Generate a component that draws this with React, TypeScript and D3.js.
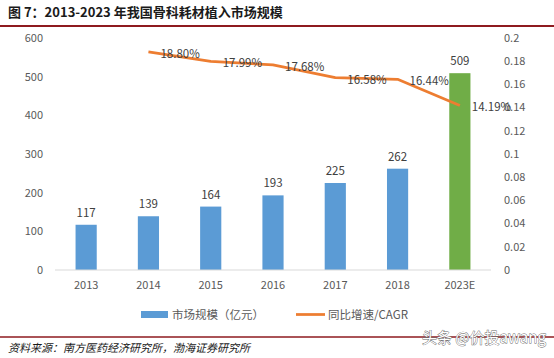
import React from 'react';
import * as d3 from 'd3';

// data
const categories = ['2013', '2014', '2015', '2016', '2017', '2018', '2023E'];
const marketSize = [117, 139, 164, 193, 225, 262, 509];
const growthCats = ['2014', '2015', '2016', '2017', '2018', '2023E'];
const growthRate = [0.188, 0.1799, 0.1768, 0.1658, 0.1644, 0.1419];
const leftTicks = [0, 100, 200, 300, 400, 500, 600];
const rightTicks = [0, 0.02, 0.04, 0.06, 0.08, 0.1, 0.12, 0.14, 0.16, 0.18, 0.2];

const W = 554,
	H = 358;
const font = '"Noto Sans CJK SC", "Open Sans", sans-serif';

const App = () => {
	const x = d3.scalePoint().domain(categories).range([55, 491]).padding(0.5);
	const step = x.step();
	const barW = step * 0.34;
	const yL = d3.scaleLinear().domain([0, 600]).range([270, 38]);
	const yR = d3.scaleLinear().domain([0, 0.2]).range([270, 38]);

	const line = d3
		.line<number>()
		.x((d, i) => x(growthCats[i]) as number)
		.y((d) => yR(d));

	return (
		<svg width={W} height={H} style={{ position: 'absolute', left: 0, top: 0, background: '#fff' }} fontFamily={font}>
			{/* title */}
			<text x={8} y={17} fontSize={13} fontWeight="bold" fill="#1a1a1a">
				图 7：2013-2023 年我国骨科耗材植入市场规模
			</text>
			<line x1={0} x2={W} y1={26} y2={26} stroke="#8e1a1f" strokeWidth={2} />

			{/* left axis labels */}
			{leftTicks.map((t) => (
				<text key={'l' + t} x={43} y={yL(t)} dy="0.35em" fontSize={11} fill="#595959" textAnchor="end">
					{t}
				</text>
			))}
			{/* right axis labels */}
			{rightTicks.map((t) => (
				<text key={'r' + t} x={504} y={yR(t)} dy="0.35em" fontSize={11} fill="#595959">
					{d3.format('~g')(+t.toFixed(2))}
				</text>
			))}

			{/* bars */}
			{categories.map((c, i) => (
				<g key={c}>
					<rect
						x={(x(c) as number) - barW / 2}
						y={yL(marketSize[i])}
						width={barW}
						height={yL(0) - yL(marketSize[i])}
						fill={c === '2023E' ? '#70ad47' : '#5b9bd5'}
					/>
					<text x={x(c)} y={yL(marketSize[i]) - 8} fontSize={11.5} fill="#404040" textAnchor="middle">
						{marketSize[i]}
					</text>
					<text x={x(c)} y={285} dy="0.35em" fontSize={11} fill="#595959" textAnchor="middle">
						{c}
					</text>
				</g>
			))}

			{/* baseline */}
			<line x1={55} x2={491} y1={yL(0)} y2={yL(0)} stroke="#d9d9d9" strokeWidth={1} />

			{/* growth line */}
			<path d={line(growthRate) || ''} fill="none" stroke="#ed7d31" strokeWidth={2.75} strokeLinejoin="round" />
			{growthRate.map((v, i) => (
				<text
					key={'g' + i}
					x={(x(growthCats[i]) as number) + 12}
					y={yR(v) + 2}
					dy="0.35em"
					fontSize={11.5}
					fill="#404040"
				>
					{(v * 100).toFixed(2) + '%'}
				</text>
			))}

			{/* legend */}
			<rect x={141} y={311} width={27} height={7} fill="#5b9bd5" />
			<text x={172} y={314.5} dy="0.35em" fontSize={11.5} fill="#595959">
				市场规模（亿元）
			</text>
			<line x1={296} x2={325} y1={314.5} y2={314.5} stroke="#ed7d31" strokeWidth={2.75} />
			<text x={328} y={314.5} dy="0.35em" fontSize={11.5} fill="#595959">
				同比增速/CAGR
			</text>

			{/* footer */}
			<line x1={0} x2={W} y1={337} y2={337} stroke="#8e1a1f" strokeWidth={1.5} />
			<text x={8} y={352} fontSize={11} fontStyle="italic" fill="#1a1a1a">
				资料来源：南方医药经济研究所，渤海证券研究所
			</text>
			<text
				x={422}
				y={343}
				fontSize={15}
				fill="#fff"
				stroke="#666"
				strokeWidth={0.8}
				paintOrder="stroke"
			>
				头条 @价投awang
			</text>
		</svg>
	);
};

export default App;
